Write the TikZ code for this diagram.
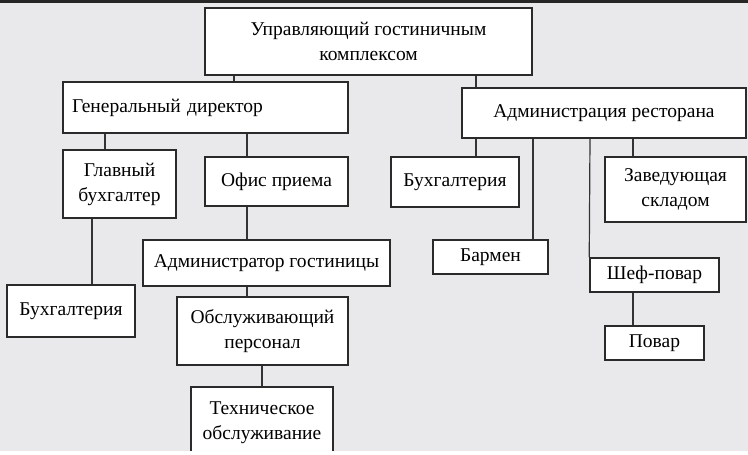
\documentclass[tikz,border=0pt]{standalone}
\usepackage{fontspec}
\setmainfont{Liberation Serif}
\definecolor{bg}{HTML}{E9E9EC}
\definecolor{edge}{HTML}{2A2A2A}
\definecolor{conn}{HTML}{333333}
\begin{document}
\begin{tikzpicture}[x=1pt,y=-1pt,
  box/.style={draw=edge, line width=1.5pt, fill=white, inner sep=0pt, align=center,
    font=\fontsize{19.5}{25}\selectfont},
  conn/.style={draw=conn, line width=1.2pt}]
\useasboundingbox (0,0) rectangle (748,455);
\fill[bg] (0,0) rectangle (748,455);
\fill[black!85] (0,0) rectangle (748,2.5);
% boxes
\node[box, minimum width=327pt, minimum height=67pt] (top) at (368.5,41.5) {Управляющий гостиничным\\комплексом};
\node[box, minimum width=285pt, minimum height=51pt, text width=267pt, align=left] (gd) at (205.5,107.5) {Генеральный директор};
\node[box, minimum width=284pt, minimum height=50pt] (ar) at (604,113) {Администрация ресторана};
\node[box, minimum width=113pt, minimum height=68pt] (gb) at (119.5,184) {Главный\\бухгалтер};
\node[box, minimum width=143pt, minimum height=49pt] (op) at (276.5,181.5) {Офис приема};
\node[box, minimum width=128pt, minimum height=50pt] (bxr) at (455,182) {Бухгалтерия};
\node[box, minimum width=141pt, minimum height=65pt] (zav) at (675.5,189.5) {Заведующая\\складом};
\node[box, minimum width=115pt, minimum height=34pt] (barm) at (490.5,257) {Бармен};
\node[box, minimum width=129pt, minimum height=34pt] (shef) at (654.5,275) {Шеф-повар};
\node[box, minimum width=99pt, minimum height=34pt] (povar) at (654.5,343) {Повар};
\node[box, minimum width=247pt, minimum height=46pt] (adm) at (266.5,263) {Администратор гостиницы};
\node[box, minimum width=128pt, minimum height=52pt] (bxl) at (71,311) {Бухгалтерия};
\node[box, minimum width=171pt, minimum height=68pt] (obs) at (262.5,331) {Обслуживающий\\персонал};
\node[box, minimum width=142pt, minimum height=72pt] (tech) at (262,423) {Техническое\\обслуживание};
% connectors
\draw[conn] (top.south -| 234,0) -- (gd.north -| 234,0);
\draw[conn] (top.south -| 476,0) -- (ar.north -| 476,0);
\draw[conn] (gd.south -| 105,0) -- (gb.north -| 105,0);
\draw[conn] (gd.south -| 247,0) -- (op.north -| 247,0);
\draw[conn] (ar.south -| 476,0) -- (bxr.north -| 476,0);
\draw[conn] (ar.south -| 533,0) -- (barm.north -| 533,0);
\draw[conn] (ar.south -| 590,0) -- (shef.north west);
\draw[conn] (ar.south -| 633,0) -- (zav.north -| 633,0);
\draw[conn] (gb.south -| 92,0) -- (bxl.north -| 92,0);
\draw[conn] (op.south -| 247,0) -- (adm.north -| 247,0);
\draw[conn] (adm.south -| 247,0) -- (obs.north -| 247,0);
\draw[conn] (obs.south -| 262,0) -- (tech.north -| 262,0);
\draw[conn] (shef.south -| 633,0) -- (povar.north -| 633,0);
% bottom strip
\fill[white] (0,451) rectangle (748,455);
\end{tikzpicture}
\end{document}
